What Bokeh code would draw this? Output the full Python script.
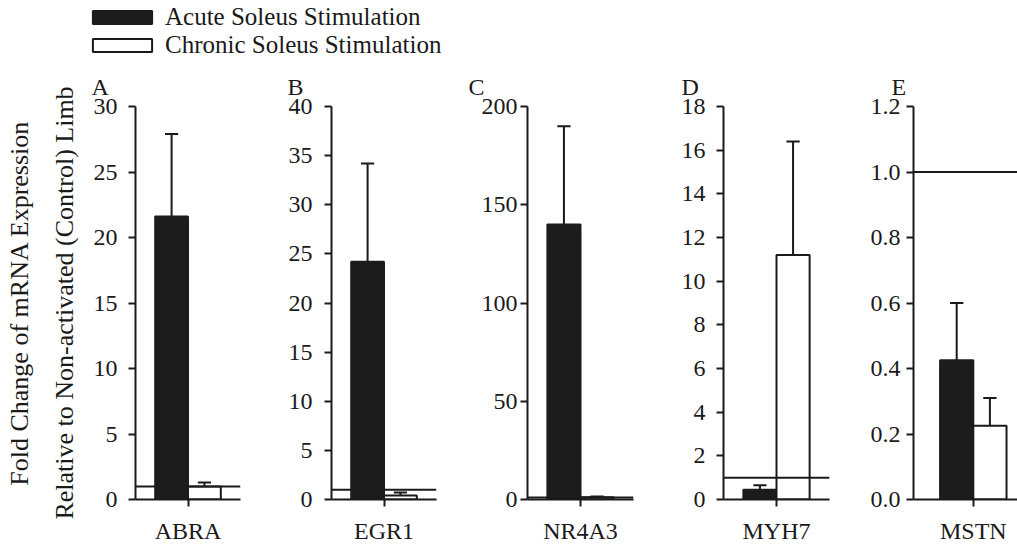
from bokeh.plotting import figure
from bokeh.layouts import column, row
from bokeh.models import (Legend, LegendItem, FixedTicker, Span, Range1d,
                          ColumnDataSource, NumeralTickFormatter)
from bokeh.embed import file_html
from bokeh.resources import INLINE

# ---------------- data ----------------
genes = ["ABRA", "EGR1", "NR4A3", "MYH7", "MSTN"]
panel_letters = ["A", "B", "C", "D", "E"]
acute_mean = [21.6, 24.2, 140.0, 0.45, 0.425]
acute_err = [6.3, 10.0, 50.0, 0.2, 0.175]
chronic_mean = [1.0, 0.4, 1.2, 11.2, 0.225]
chronic_err = [0.3, 0.3, 0.3, 5.2, 0.085]
y_max = [30, 40, 200, 18, 1.2]
y_step = [5, 5, 50, 2, 0.2]
y_formats = ["0", "0", "0", "0", "0.0"]
control_level = 1.0
series_labels = ["Acute Soleus Stimulation", "Chronic Soleus Stimulation"]
y_title = "Fold Change of mRNA Expression\nRelative to Non-activated (Control) Limb"

# ---------------- style / layout ----------------
FONT = "Liberation Serif"
INK = "#1a1a1a"
BAR_DARK = "#1c1c1c"
widths = [261, 196, 196, 190, 174]
border_left = [135, 70, 70, 70, 70]
border_right = [21, 21, 20, 14, 0]
x_ranges = [(-1.6, 1.6)] * 4 + [(-1.8, 1.33)]
tick_standoff = [11, 12, 3, 11, 6]
title_offset = [-44, -44, -59, -42, -22]
LEG_H = 60
PANEL_H = 546 - LEG_H
TOP = 106 - LEG_H
FRAME_H = 393


def make_panel(i):
    p = figure(width=widths[i], height=PANEL_H, output_backend="svg",
               toolbar_location=None,
               x_range=Range1d(*x_ranges[i]), y_range=Range1d(0, y_max[i]),
               min_border_left=border_left[i], min_border_right=border_right[i],
               min_border_top=TOP, min_border_bottom=PANEL_H - TOP - FRAME_H)
    p.outline_line_color = None
    p.grid.visible = False
    p.background_fill_color = "white"
    p.border_fill_color = "white"

    # bars
    src_a = ColumnDataSource(dict(x=[-0.5], top=[acute_mean[i]]))
    src_c = ColumnDataSource(dict(x=[0.5], top=[chronic_mean[i]]))
    p.vbar(x="x", top="top", bottom=0, width=1, source=src_a,
           fill_color=BAR_DARK, line_color=BAR_DARK, line_width=2)
    p.vbar(x="x", top="top", bottom=0, width=1, source=src_c,
           fill_color="white", line_color=INK, line_width=2)

    # error bars (upper only)
    xs = [-0.5, 0.5]
    lo = [acute_mean[i], chronic_mean[i]]
    hi = [acute_mean[i] + acute_err[i], chronic_mean[i] + chronic_err[i]]
    p.segment(x0=xs, y0=lo, x1=xs, y1=hi, line_color=INK, line_width=2)
    p.segment(x0=[x - 0.2 for x in xs], y0=hi, x1=[x + 0.2 for x in xs], y1=hi,
              line_color=INK, line_width=2)

    # control reference line
    p.add_layout(Span(location=control_level, dimension="width",
                      line_color=INK, line_width=2))

    # axes
    ticks = [round(k * y_step[i], 6) for k in range(int(round(y_max[i] / y_step[i])) + 1)]
    ya = p.yaxis[0]
    ya.ticker = FixedTicker(ticks=ticks)
    ya.formatter = NumeralTickFormatter(format=y_formats[i])
    xa = p.xaxis[0]
    xa.ticker = FixedTicker(ticks=[0])
    xa.major_label_overrides = {0: genes[i]}
    for ax in (xa, ya):
        ax.axis_line_width = 2
        ax.axis_line_color = INK
        ax.major_tick_line_width = 2
        ax.major_tick_line_color = INK
        ax.major_tick_in = 0
        ax.major_tick_out = 7
        ax.minor_tick_line_color = None
        ax.major_label_text_font = FONT
        ax.major_label_text_font_size = "24px"
        ax.major_label_text_color = INK
    ya.major_label_standoff = tick_standoff[i]
    xa.major_label_standoff = 11

    if i == 0:
        ya.axis_label = y_title
        ya.axis_label_text_font = FONT
        ya.axis_label_text_font_size = "26px"
        ya.axis_label_text_font_style = "normal"
        ya.axis_label_text_color = INK
        ya.axis_label_text_line_height = 1.55
        ya.axis_label_standoff = 12

    # panel letter
    p.title.text = panel_letters[i]
    p.title.align = "left"
    p.title.offset = title_offset[i]
    p.title.text_font = FONT
    p.title.text_font_size = "24px"
    p.title.text_font_style = "normal"
    p.title.text_color = INK
    p.title.standoff = 14
    return p


panels = [make_panel(i) for i in range(5)]

# ---------------- legend strip ----------------
leg = figure(width=1017, height=LEG_H, output_backend="svg", toolbar_location=None,
             x_range=(0, 1), y_range=(0, 1), x_axis_type=None, y_axis_type=None,
             min_border=0)
leg.outline_line_color = None
leg.grid.visible = False
# hidden placeholder renderers that only supply the legend swatch styles
r1 = leg.vbar(x=[0.5], top=[0], width=0, fill_color=BAR_DARK, line_color=BAR_DARK,
              line_width=2, visible=False)
r2 = leg.vbar(x=[0.5], top=[0], width=0, fill_color="white", line_color=INK,
              line_width=2, visible=False)
legend = Legend(items=[LegendItem(label=series_labels[0], renderers=[r1]),
                       LegendItem(label=series_labels[1], renderers=[r2])],
                location=(85, 1), glyph_width=74, glyph_height=16,
                label_text_font=FONT, label_text_font_size="25px",
                label_text_color=INK, label_standoff=6, spacing=0,
                padding=0, margin=0, border_line_alpha=0,
                background_fill_alpha=0, click_policy="none")
leg.add_layout(legend)

layout = column(leg, row(*panels, spacing=0), spacing=0)
open("out.html", "w").write(file_html(layout, INLINE))
